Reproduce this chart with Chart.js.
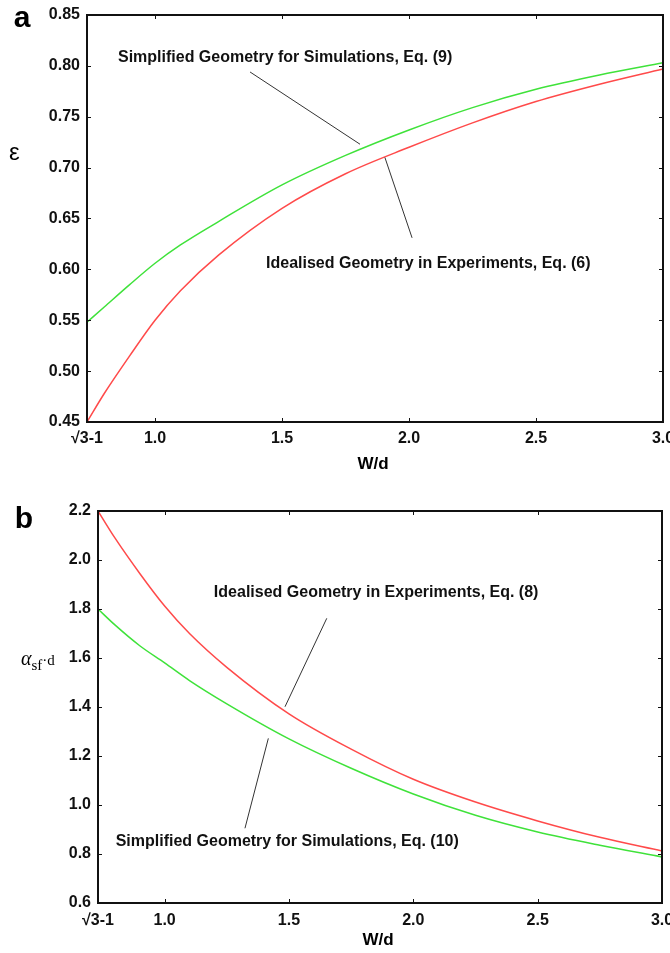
<!DOCTYPE html>
<html>
<head>
<meta charset="utf-8">
<script src="https://cdn.jsdelivr.net/npm/chart.js@4.4.1/dist/chart.umd.min.js"></script>
<style>
  html, body { margin: 0; padding: 0; background: #fff; }
  #wrapA { position: absolute; left: 0; top: 0; width: 670px; height: 475px; }
  #wrapB { position: absolute; left: 0; top: 475px; width: 670px; height: 478px; }
</style>
</head>
<body>
<div id="wrapA"><canvas id="chartA" width="670" height="475"></canvas></div>
<div id="wrapB"><canvas id="chartB" width="670" height="478"></canvas></div>
<script>
// --- data ---
const wd = [0.732, 0.8, 0.9, 1.0, 1.1, 1.25, 1.5, 1.75, 2.0, 2.25, 2.5, 2.75, 3.0];

// panel a : porosity
const epsIdealised  = [0.450, 0.478, 0.515, 0.550, 0.579, 0.614, 0.660, 0.694, 0.720, 0.744, 0.765, 0.782, 0.797];
const epsSimplified = [0.548, 0.563, 0.585, 0.606, 0.624, 0.647, 0.683, 0.712, 0.737, 0.759, 0.777, 0.791, 0.803];

// panel b : specific surface * d
const asfIdealised  = [2.200, 2.090, 1.945, 1.812, 1.700, 1.562, 1.372, 1.228, 1.105, 1.012, 0.935, 0.868, 0.812];
const asfSimplified = [1.800, 1.735, 1.650, 1.580, 1.508, 1.413, 1.270, 1.150, 1.045, 0.958, 0.890, 0.836, 0.788];

const xTicks = [Math.sqrt(3) - 1, 1.0, 1.5, 2.0, 2.5, 3.0];
const xTickLabels = ['√3-1', '1.0', '1.5', '2.0', '2.5', '3.0'];
const yTicksA = [0.45, 0.50, 0.55, 0.60, 0.65, 0.70, 0.75, 0.80, 0.85];
const yTicksB = [0.6, 0.8, 1.0, 1.2, 1.4, 1.6, 1.8, 2.0, 2.2];

const RED = '#ff4a4a';
const GREEN = '#3fe23a';
const SANS = '"Liberation Sans", Arial, sans-serif';
const SERIF = '"Liberation Serif", "Times New Roman", serif';

const pts = (xs, ys) => xs.map((x, i) => ({ x: x, y: ys[i] }));

// frame, inward ticks, notes with leader lines, titles
const decor = {
    id: 'decor',
    afterDraw(chart, args, opts) {
        const ctx = chart.ctx, a = chart.chartArea;
        const xs = chart.scales.x, ys = chart.scales.y;
        ctx.save();

        ctx.strokeStyle = '#111';
        ctx.lineWidth = 1;
        ctx.beginPath();
        xs.ticks.forEach(t => {
            const p = Math.round(xs.getPixelForValue(t.value)) + 0.5;
            ctx.moveTo(p, a.bottom); ctx.lineTo(p, a.bottom - 4);
            ctx.moveTo(p, a.top); ctx.lineTo(p, a.top + 4);
        });
        ys.ticks.forEach(t => {
            const p = Math.round(ys.getPixelForValue(t.value)) + 0.5;
            ctx.moveTo(a.left, p); ctx.lineTo(a.left + 4, p);
            ctx.moveTo(a.right, p); ctx.lineTo(a.right - 4, p);
        });
        ctx.stroke();

        ctx.lineWidth = 2;
        ctx.strokeRect(a.left, a.top, a.right - a.left, a.bottom - a.top);

        // notes
        opts.notes.forEach(n => {
            ctx.strokeStyle = '#333';
            ctx.lineWidth = 1;
            ctx.beginPath();
            ctx.moveTo(xs.getPixelForValue(n.line[0]), ys.getPixelForValue(n.line[1]));
            ctx.lineTo(xs.getPixelForValue(n.line[2]), ys.getPixelForValue(n.line[3]));
            ctx.stroke();
            ctx.fillStyle = '#111';
            ctx.font = 'bold 16px ' + SANS;
            ctx.textAlign = 'left';
            ctx.textBaseline = 'middle';
            ctx.fillText(n.text, xs.getPixelForValue(n.at[0]), ys.getPixelForValue(n.at[1]));
        });

        // panel letter
        ctx.fillStyle = '#000';
        ctx.font = 'bold 30px ' + SANS;
        ctx.textAlign = 'center';
        ctx.textBaseline = 'middle';
        ctx.fillText(opts.letter, opts.letterPos[0], opts.letterPos[1]);

        // x title
        ctx.font = 'bold 17px ' + SANS;
        ctx.fillText('W/d', (a.left + a.right) / 2 - 2, a.bottom + opts.xTitleGap);

        // y title, drawn in parts
        let x = opts.yTitlePos[0];
        ctx.textAlign = 'left';
        ctx.textBaseline = 'alphabetic';
        opts.yTitle.forEach(p => {
            ctx.font = p.font;
            ctx.fillText(p.text, x, opts.yTitlePos[1] + p.dy);
            x += ctx.measureText(p.text).width + (p.gap || 0);
        });

        ctx.restore();
    }
};

function makeChart(id, opts) {
    return new Chart(document.getElementById(id), {
        type: 'line',
        data: {
            datasets: [
                {
                    label: 'Idealised Geometry in Experiments',
                    data: pts(wd, opts.red),
                    borderColor: RED,
                    borderWidth: 1.5,
                    pointRadius: 0,
                    cubicInterpolationMode: 'monotone',
                    fill: false
                },
                {
                    label: 'Simplified Geometry for Simulations',
                    data: pts(wd, opts.green),
                    borderColor: GREEN,
                    borderWidth: 1.5,
                    pointRadius: 0,
                    cubicInterpolationMode: 'monotone',
                    fill: false
                }
            ]
        },
        options: {
            responsive: false,
            devicePixelRatio: 1,
            animation: false,
            events: [],
            layout: { padding: { top: opts.padTop, right: opts.padRight, left: 0, bottom: 0 } },
            scales: {
                x: {
                    type: 'linear',
                    min: xTicks[0],
                    max: 3.0,
                    grid: { display: false, drawTicks: false },
                    border: { display: false },
                    afterBuildTicks: s => { s.ticks = xTicks.map(v => ({ value: v })); },
                    afterFit: s => { s.height = opts.xHeight; s.paddingLeft = 0; s.paddingRight = 0; },
                    ticks: {
                        autoSkip: false,
                        maxRotation: 0,
                        padding: opts.xTickPad,
                        color: '#111',
                        font: { family: SANS, size: 16, weight: 'bold' },
                        callback: (v, i) => xTickLabels[i]
                    }
                },
                y: {
                    type: 'linear',
                    min: opts.yTicks[0],
                    max: opts.yTicks[opts.yTicks.length - 1],
                    grid: { display: false, drawTicks: false },
                    border: { display: false },
                    afterBuildTicks: s => { s.ticks = opts.yTicks.map(v => ({ value: v })); },
                    afterFit: s => { s.width = opts.yWidth; s.paddingTop = 0; s.paddingBottom = 0; },
                    ticks: {
                        padding: 7,
                        color: '#111',
                        font: { family: SANS, size: 16, weight: 'bold' },
                        callback: v => v.toFixed(opts.digits)
                    }
                }
            },
            plugins: {
                legend: { display: false },
                tooltip: { enabled: false },
                decor: opts.decor
            }
        },
        plugins: [decor]
    });
}

makeChart('chartA', {
    red: epsIdealised,
    green: epsSimplified,
    yTicks: yTicksA,
    digits: 2,
    padTop: 15,
    padRight: 7,
    yWidth: 87,
    xHeight: 53,
    xTickPad: 7,
    decor: {
        letter: 'a',
        letterPos: [22, 19],
        xTitleGap: 42,
        yTitlePos: [9, 160],
        yTitle: [{ text: 'ε', font: '24px ' + SANS, dy: 0 }],
        notes: [
            { text: 'Simplified Geometry for Simulations, Eq. (9)', at: [0.854, 0.8077], line: [1.374, 0.794, 1.807, 0.723] },
            { text: 'Idealised Geometry in Experiments, Eq. (6)', at: [1.437, 0.606], line: [1.905, 0.710, 2.012, 0.631] }
        ]
    }
});

makeChart('chartB', {
    red: asfIdealised,
    green: asfSimplified,
    yTicks: yTicksB,
    digits: 1,
    padTop: 36,
    padRight: 8,
    yWidth: 98,
    xHeight: 50,
    xTickPad: 8,
    decor: {
        letter: 'b',
        letterPos: [24, 45],
        xTitleGap: 37,
        yTitlePos: [21, 190],
        yTitle: [
            { text: 'α', font: 'italic 20px ' + SERIF, dy: 0 },
            { text: 'sf', font: '15px ' + SERIF, dy: 5 },
            { text: '·d', font: '15px ' + SERIF, dy: 0 }
        ],
        notes: [
            { text: 'Idealised Geometry in Experiments, Eq. (8)', at: [1.198, 1.865], line: [1.652, 1.762, 1.484, 1.401] },
            { text: 'Simplified Geometry for Simulations, Eq. (10)', at: [0.803, 0.849], line: [1.323, 0.905, 1.417, 1.272] }
        ]
    }
});
</script>
</body>
</html>
